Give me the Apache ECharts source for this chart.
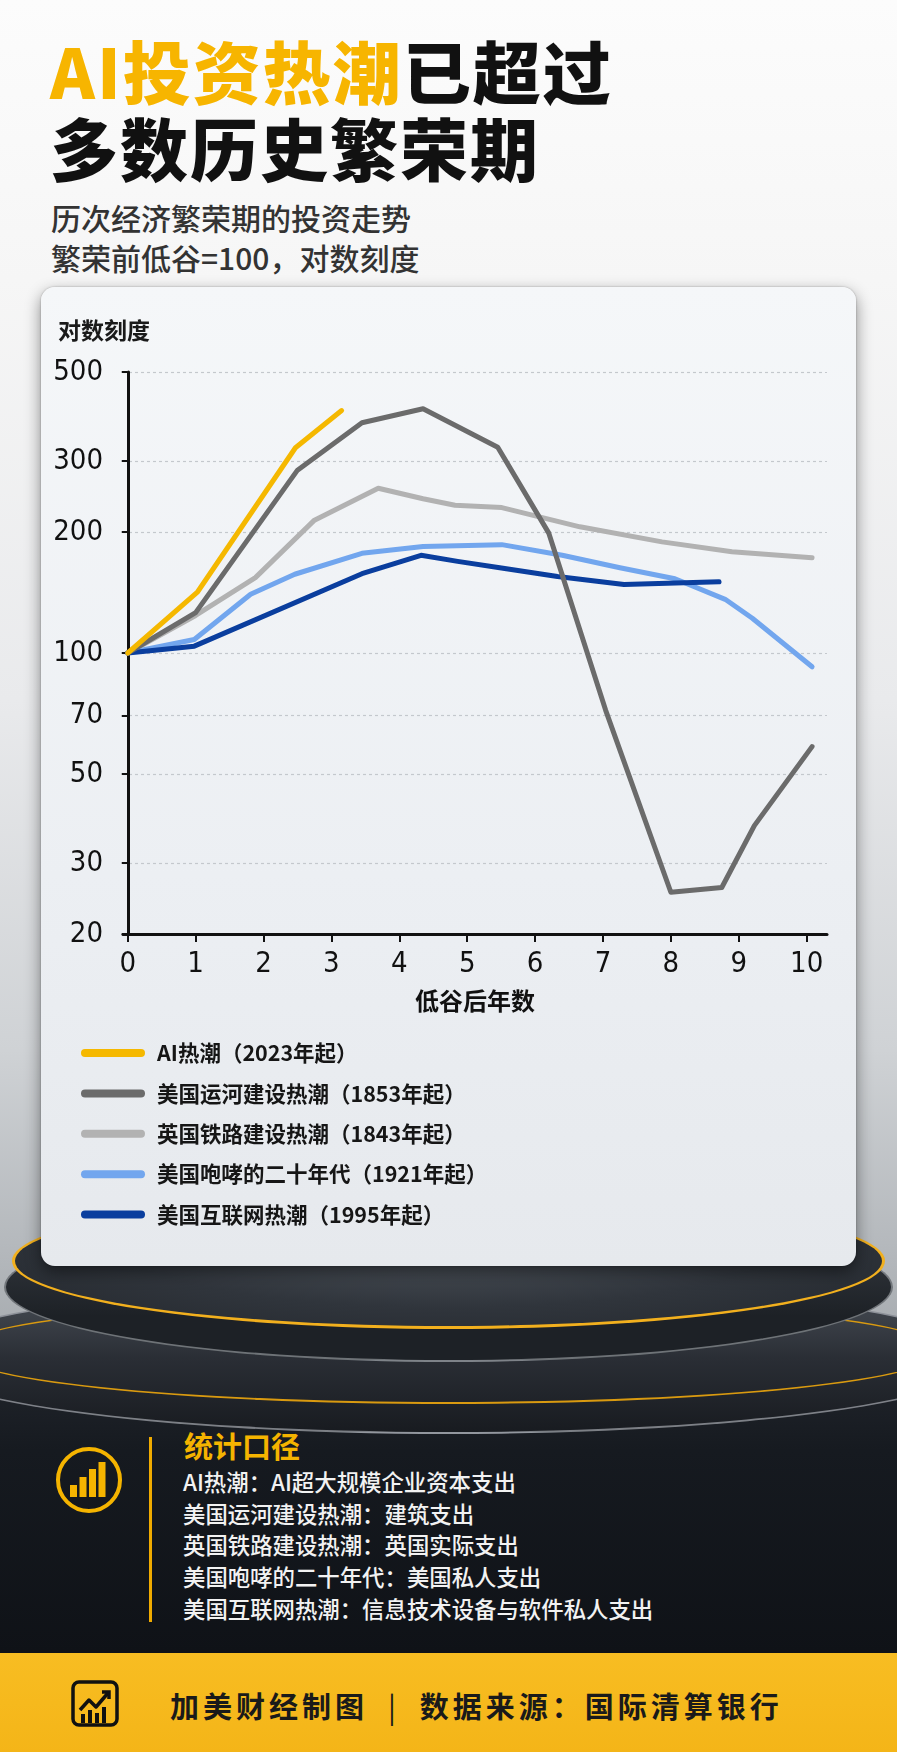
<!DOCTYPE html>
<html><head><meta charset="utf-8">
<script src="https://cdn.jsdelivr.net/npm/echarts@6/dist/echarts.min.js"></script>
<style>
html,body{margin:0;padding:0;}
body{width:897px;height:1752px;position:relative;overflow:hidden;font-family:'Noto Sans CJK SC','Noto Sans',sans-serif;
background:linear-gradient(180deg,#fcfcfc 0px,#f6f6f6 280px,#e9eaec 700px,#cfd2d5 1050px,#b4b8bc 1250px,#9ea3a8 1400px);}
.abs{position:absolute;}
#title{left:50px;top:31px;font-size:68px;line-height:77px;font-weight:900;letter-spacing:2px;color:#111;white-space:nowrap;}
#title .y{color:#F7B500;}
#sub{left:51px;top:197px;font-size:30px;line-height:40px;font-weight:500;color:#333;white-space:nowrap;}
.ell{position:absolute;border-radius:50%;box-sizing:border-box;}
#card{left:41px;top:287px;width:815px;height:979px;border-radius:14px;background:linear-gradient(180deg,#f5f7f9,#eceff3 60%,#e6e9ed);box-shadow:0 6px 16px rgba(0,0,0,0.45),0 0 2px rgba(0,0,0,0.3);}
#chart{left:0;top:0;width:897px;height:1752px;}
#stat{left:184px;top:1425px;font-size:29px;line-height:40px;font-weight:700;color:#F5B400;}
#notes{left:183px;top:1466px;font-size:22.4px;line-height:31.7px;font-weight:500;color:#f2f2f2;white-space:nowrap;}
#vline{left:149px;top:1437px;width:3px;height:185px;background:#F0AB00;}
#footer{left:0;top:1653px;width:897px;height:99px;background:linear-gradient(180deg,#f8bd22,#f4b518);}
#ftext{left:170px;top:1684px;font-size:29px;line-height:42px;font-weight:700;color:#1a1a1a;letter-spacing:4px;white-space:nowrap;}
</style></head>
<body>
<div class="abs" id="title"><span class="y">AI投资热潮</span>已超过<br>多数历史繁荣期</div>
<div class="abs" id="sub">历次经济繁荣期的投资走势<br>繁荣前低谷=100，对数刻度</div>

<!-- podium -->
<div class="abs" style="left:0;top:1330px;width:897px;height:323px;background:linear-gradient(180deg,#262a31 0,#161a20 120px,#0f1217 323px);"></div>
<div class="ell" style="left:-90px;top:1282px;width:1077px;height:152px;background:linear-gradient(180deg,#4a5058,#2a2e35 50%,#181b20);border:2px solid rgba(205,210,216,0.55);"></div>
<div class="ell" style="left:-45px;top:1298px;width:987px;height:106px;border:2px solid #D99A10;"></div>
<div class="ell" style="left:4px;top:1212px;width:889px;height:150px;background:linear-gradient(180deg,#3a3f46,#1d2126 70%);border:2px solid rgba(210,215,220,0.45);"></div>
<div class="ell" style="left:12px;top:1193px;width:873px;height:136px;background:radial-gradient(ellipse at 50% 35%,#50565e 0%,#30353c 55%,#23272d 100%);border:3px solid #F2B01E;border-top-color:rgba(190,195,200,0.7);"></div>

<div class="abs" id="card"></div>

<div class="abs" id="vline"></div>
<svg class="abs" style="left:54px;top:1445px" width="70" height="70" viewBox="0 0 70 70">
  <circle cx="35" cy="35" r="31" fill="none" stroke="#F5B400" stroke-width="4"/>
  <rect x="16" y="40" width="7" height="12" fill="#F5B400"/>
  <rect x="25.5" y="32" width="7" height="20" fill="#F5B400"/>
  <rect x="35" y="24" width="7" height="28" fill="#F5B400"/>
  <rect x="44.5" y="17" width="7" height="35" fill="#F5B400"/>
</svg>
<div class="abs" id="stat">统计口径</div>
<div class="abs" id="notes">AI热潮：AI超大规模企业资本支出<br>美国运河建设热潮：建筑支出<br>英国铁路建设热潮：英国实际支出<br>美国咆哮的二十年代：美国私人支出<br>美国互联网热潮：信息技术设备与软件私人支出</div>

<div class="abs" id="footer"></div>
<svg class="abs" style="left:71px;top:1680px" width="48" height="47" viewBox="0 0 48 47">
  <rect x="2" y="2" width="44" height="43" rx="6" fill="none" stroke="#111" stroke-width="3.5"/>
  <polyline points="9,30 18,20 25,27 37,13" fill="none" stroke="#111" stroke-width="3.5" stroke-linejoin="round"/>
  <polyline points="31,12 38,12 38,19" fill="none" stroke="#111" stroke-width="3.5"/>
  <rect x="10" y="34" width="4" height="9" fill="#111"/><rect x="17" y="30" width="4" height="13" fill="#111"/>
  <rect x="24" y="33" width="4" height="10" fill="#111"/><rect x="31" y="27" width="4" height="16" fill="#111"/>
</svg>
<div class="abs" id="ftext">加美财经制图<span style="font-weight:400;margin:0 20px 0 20px;">|</span>数据来源：国际清算银行</div>

<div class="abs" id="chart"></div>

<script>
// ---- data ----
const seriesNames = ['AI热潮（2023年起）','美国运河建设热潮（1853年起）','英国铁路建设热潮（1843年起）','美国咆哮的二十年代（1921年起）','美国互联网热潮（1995年起）'];
const aiBoom = [[0,100],[1.03,142],[2.47,324],[3.15,401]];
const usCanal = [[0,100],[1.0,126],[2.5,285],[3.45,374],[4.35,405],[5.45,325],[6.2,199],[7.04,72],[8.0,25.4],[8.75,26.1],[9.23,37.2],[10.08,58.5]];
const ukRail = [[0,100],[1.0,124],[1.88,154],[2.75,214],[3.69,257],[4.35,242],[4.82,233],[5.51,230],[6.66,206],[7.87,189],[8.9,178.5],[10.08,172.6]];
const usRoaring = [[0,100],[0.98,108],[1.81,140],[2.46,157],[3.45,177],[4.35,184],[5.51,186],[6.4,175],[7.25,163],[8.06,153],[8.8,136],[9.2,122],[10.08,92.4]];
const usInternet = [[0,100],[0.98,104],[3.45,157.5],[4.32,175],[4.86,169],[5.48,163],[6.33,155],[7.31,148],[8.71,150.4]];
const xTicks = [0,1,2,3,4,5,6,7,8,9,10];
const yTicks = [20,30,50,70,100,200,300,500];
const colors = {ai:'#F5B800', canal:'#6B6B6B', rail:'#B2B2B2', roaring:'#72A6EE', internet:'#0A3E9E'};

const numFont = "'Liberation Sans Narrow','DejaVu Sans Condensed','Roboto Condensed',Roboto,sans-serif";
const cjkFont = "'Noto Sans CJK SC','Noto Sans',sans-serif";

function mkSeries(name, data, color){
  return {name:name, type:'line', data:data, symbol:'none', smooth:false,
    lineStyle:{width:5, color:color, cap:'round', join:'round'}, itemStyle:{color:color},
    emphasis:{disabled:true}, animation:false};
}

const chart = echarts.init(document.getElementById('chart'), null, {renderer:'canvas'});
chart.setOption({
  backgroundColor:'transparent',
  animation:false,
  grid:{left:123, top:372, width:704, height:562, containLabel:false},
  xAxis:{type:'value', min:-0.07, max:10.3,
    axisLine:{show:true, onZero:false, lineStyle:{color:'#111', width:3}},
    axisTick:{show:true, customValues:xTicks, length:8, lineStyle:{color:'#111', width:2}},
    axisLabel:{customValues:xTicks, fontSize:29, color:'#111', margin:16, fontFamily:numFont},
    splitLine:{show:false},
    name:'低谷后年数', nameLocation:'middle', nameGap:55,
    nameTextStyle:{fontSize:24, color:'#111', fontWeight:600, fontFamily:cjkFont}},
  yAxis:{type:'log', logBase:10, min:20, max:500,
    axisLine:{show:true, lineStyle:{color:'#111', width:3}},
    axisTick:{show:true, customValues:yTicks, length:6, lineStyle:{color:'#111', width:2}},
    axisLabel:{customValues:yTicks, fontSize:29, color:'#111', margin:20, fontFamily:numFont},
    splitLine:{show:true, lineStyle:{color:'#c4c8cd', width:1.2, type:[3,3]}}},
  legend:{orient:'vertical', left:76, top:1037, itemWidth:64, itemHeight:8, itemGap:18.4,
    icon:'path://M4,0 L60,0 A4,4 0 0 1 60,8 L4,8 A4,4 0 0 1 4,0 Z',
    data:seriesNames,
    textStyle:{fontSize:21.5, lineHeight:22, color:'#161616', fontWeight:600, fontFamily:cjkFont, padding:[0,0,0,7]},
    selectedMode:false},
  graphic:[{type:'text', left:58, top:319, style:{text:'对数刻度', fontSize:23, fontWeight:600, fill:'#1a1a1a', fontFamily:cjkFont}}],
  series:[
    mkSeries(seriesNames[2], ukRail, colors.rail),
    mkSeries(seriesNames[3], usRoaring, colors.roaring),
    mkSeries(seriesNames[4], usInternet, colors.internet),
    mkSeries(seriesNames[1], usCanal, colors.canal),
    mkSeries(seriesNames[0], aiBoom, colors.ai)
  ]
});
</script>
</body></html>
